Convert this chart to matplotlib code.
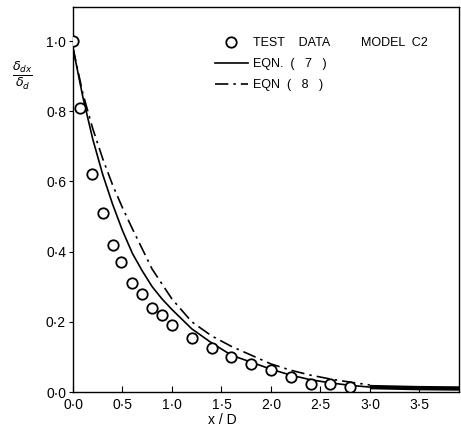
import matplotlib
matplotlib.use("Agg")
import matplotlib.pyplot as plt
from matplotlib.ticker import FuncFormatter

plt.rcParams['font.family'] = ['Liberation Sans', 'DejaVu Sans']
plt.rcParams['mathtext.fontset'] = 'dejavusans'

# test data, model C2
test_x = [0.0, 0.07, 0.19, 0.30, 0.40, 0.49, 0.60, 0.70, 0.80, 0.90, 1.0,
          1.2, 1.4, 1.6, 1.8, 2.0, 2.2, 2.4, 2.6, 2.8]
test_y = [1.0, 0.81, 0.62, 0.51, 0.42, 0.37, 0.31, 0.28, 0.24, 0.22, 0.19,
          0.155, 0.125, 0.10, 0.08, 0.063, 0.042, 0.022, 0.024, 0.013]

# eqn (7)
eq7_x = [0.0, 0.1, 0.2, 0.3, 0.4, 0.5, 0.6, 0.7, 0.8, 0.9, 1.0, 1.2, 1.4,
         1.6, 1.8, 2.0, 2.2, 2.4, 2.6, 2.8, 3.0, 3.5, 3.9]
eq7_y = [0.98, 0.84, 0.72, 0.62, 0.535, 0.46, 0.395, 0.345, 0.30, 0.265, 0.235,
         0.18, 0.14, 0.105, 0.085, 0.065, 0.048, 0.035, 0.026, 0.019, 0.014,
         0.011, 0.01]

# eqn (8)
eq8_x = [0.0, 0.1, 0.2, 0.3, 0.4, 0.5, 0.6, 0.8, 1.0, 1.2, 1.4, 1.6, 1.8,
         2.0, 2.2, 2.4, 2.6, 2.8, 3.0]
eq8_y = [0.98, 0.85, 0.75, 0.665, 0.59, 0.525, 0.465, 0.35, 0.265, 0.20,
         0.16, 0.13, 0.105, 0.08, 0.062, 0.048, 0.037, 0.028, 0.02]

x_ticks = [0.0, 0.5, 1.0, 1.5, 2.0, 2.5, 3.0, 3.5]
y_ticks = [0.0, 0.2, 0.4, 0.6, 0.8, 1.0]

fig = plt.figure(figsize=(4.61, 4.33), dpi=100)
ax = fig.add_axes([73 / 461, 41 / 433, 386 / 461, 385 / 433])

ax.plot(eq7_x, eq7_y, color="black", lw=1.2, label="EQN.  (   7   )")
# the scanned original shows the eqn (7) tail as a heavy stroke past x/D = 3
tail = [i for i, v in enumerate(eq7_x) if v >= 3.0]
ax.plot([eq7_x[i] for i in tail], [eq7_y[i] for i in tail], color="black",
        lw=3.2, solid_capstyle="butt")
ax.plot(eq8_x, eq8_y, color="black", lw=1.2, linestyle=(0, (8, 3, 1.5, 3)),
        label="EQN  (   8   )")
ax.plot(test_x, test_y, linestyle="none", marker="o", ms=7.5, mfc="white",
        mec="black", mew=1.3, label="TEST    DATA         MODEL  C2",
        zorder=3)

ax.set_xlim(0, 3.9)
ax.set_ylim(0, 1.097)
ax.set_xticks(x_ticks)
ax.set_yticks(y_ticks)
fmt = FuncFormatter(lambda v, p: f"{v:.1f}".replace(".", "\u00b7"))
ax.xaxis.set_major_formatter(fmt)
ax.yaxis.set_major_formatter(fmt)
ax.tick_params(axis="x", direction="in", length=4, width=0.8, labelsize=10, pad=4)
ax.tick_params(axis="y", direction="out", length=3, width=0.8, labelsize=10, pad=2)
for s in ax.spines.values():
    s.set_linewidth(1.0)

handles, labels = ax.get_legend_handles_labels()
order = [2, 0, 1]
ax.legend([handles[i] for i in order], [labels[i] for i in order],
          loc="upper left", bbox_to_anchor=(0.355, 0.935), frameon=False,
          fontsize=9, handlelength=2.6, handletextpad=0.4, labelspacing=0.72,
          borderaxespad=0)

fig.text(22 / 461, 1 - 76 / 433, r"$\frac{\delta_{dx}}{\delta_d}$",
         ha="center", va="center", fontsize=13)
fig.text(222 / 461, 1 - 420 / 433, "x / D", ha="center", va="center",
         fontsize=10)

fig.savefig("out.png", dpi=100)
